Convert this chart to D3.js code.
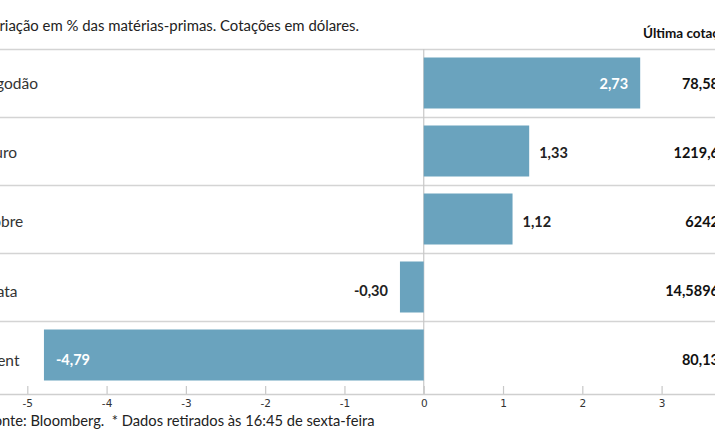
<!DOCTYPE html>
<html><head><meta charset="utf-8">
<script src="https://cdn.jsdelivr.net/npm/d3@7"></script>
<style>
body{margin:0;background:#fff;}
svg{display:block;font-family:Lato,"Open Sans",sans-serif;}
text{white-space:pre;}
</style></head>
<body><svg id="c" width="715" height="445"></svg>
<script>
const categories = ["Algodão","Ouro","Cobre","Prata","Brent"];
const changes = [2.73, 1.33, 1.12, -0.30, -4.79];
const lastQuotes = ["78,58","1219,6","6242","14,5896","80,13"];
const tickValues = [-5,-4,-3,-2,-1,0,1,2,3];
const title = "Variação em % das matérias-primas. Cotações em dólares.";
const quoteHeader = "Última cotação*";
const footnote = "Fonte: Bloomberg.  * Dados retirados às 16:45 de sexta-feira";

const W = 715, H = 445;
const svg = d3.select("#c");
const fmt = v => d3.format(".2f")(v).replace(".", ",").replace("\u2212", "-");

const x = d3.scaleLinear().domain([-5, 3]).range([27.3, 661.6]);
const y = d3.scaleBand().domain(categories).range([49, 389]).paddingInner(0.25).paddingOuter(0.125);
const yl = d3.scaleBand().domain(categories).range([49, 395]);
const axisY = 394;
const barColor = "#6aa3be";

// title
svg.append("text").attr("x", -17).attr("y", 31).attr("font-size", 14.9).attr("fill", "#222").text(title);
svg.append("text").attr("x", 643).attr("y", 38).attr("font-size", 13.5).attr("font-weight", 700).attr("fill", "#111").text(quoteHeader);

// row separators
const bounds = categories.map(c => y(c) - y.step() * y.paddingOuter());
svg.append("g").selectAll("line").data(bounds).join("line")
  .attr("x1", 0).attr("x2", W)
  .attr("y1", d => Math.round(d) + 0.5).attr("y2", d => Math.round(d) + 0.5)
  .attr("stroke", "#d4d4d4").attr("stroke-width", 1.5);

// zero line
svg.append("line").attr("x1", x(0)).attr("x2", x(0)).attr("y1", 49).attr("y2", axisY)
  .attr("stroke", "#c8c8c8").attr("stroke-width", 1.2);

// bars
const data = categories.map((c, i) => ({c, v: changes[i], q: lastQuotes[i]}));
svg.append("g").selectAll("rect").data(data).join("rect")
  .attr("x", d => x(Math.min(0, d.v)))
  .attr("width", d => Math.abs(x(d.v) - x(0)))
  .attr("y", d => y(d.c)).attr("height", y.bandwidth())
  .attr("fill", barColor);

// category labels
svg.append("g").selectAll("text").data(data).join("text")
  .attr("x", -18).attr("y", d => yl(d.c) + yl.bandwidth() / 2).attr("dy", "0.35em")
  .attr("font-size", 15.5).attr("fill", "#333").text(d => d.c);

// value labels
svg.append("g").selectAll("text").data(data).join("text")
  .attr("x", d => {
    const inside = Math.abs(d.v) > 2;
    if (d.v >= 0) return inside ? x(d.v) - 12 : x(d.v) + 10;
    return inside ? x(d.v) + 12 : x(d.v) - 12;
  })
  .attr("text-anchor", d => {
    const inside = Math.abs(d.v) > 2;
    return (d.v >= 0) === inside ? "end" : "start";
  })
  .attr("y", d => yl(d.c) + yl.bandwidth() / 2).attr("dy", "0.35em")
  .attr("font-size", 14.5).attr("font-weight", 700)
  .attr("fill", d => Math.abs(d.v) > 2 ? "#fff" : "#222")
  .text(d => fmt(d.v));

// last quotes
svg.append("g").selectAll("text").data(data).join("text")
  .attr("x", 719).attr("text-anchor", "end")
  .attr("y", d => yl(d.c) + yl.bandwidth() / 2).attr("dy", "0.35em")
  .attr("font-size", 14.5).attr("font-weight", 700).attr("fill", "#111")
  .text(d => d.q);

// axis
const axis = d3.axisTop(x).tickValues(tickValues).tickSize(8).tickFormat(d => d3.format("d")(d).replace("\u2212", "-"));
const ag = svg.append("g").attr("transform", `translate(0,${axisY})`).call(axis);
ag.select(".domain").remove();
ag.selectAll(".tick line").attr("stroke", "#c8c8c8").attr("stroke-width", 1.2);
ag.selectAll(".tick text").attr("y", 6).attr("dy", "0.71em").attr("fill", "#333")
  .attr("font-family", "'DejaVu Sans',sans-serif").attr("font-size", 10.5);
svg.append("line").attr("x1", 0).attr("x2", W).attr("y1", axisY + 0.5).attr("y2", axisY + 0.5)
  .attr("stroke", "#cfcfcf").attr("stroke-width", 1.5);

// footnote
svg.append("text").attr("x", -14).attr("y", 426).attr("font-size", 14.7).attr("fill", "#222").text(footnote);
</script></body></html>
